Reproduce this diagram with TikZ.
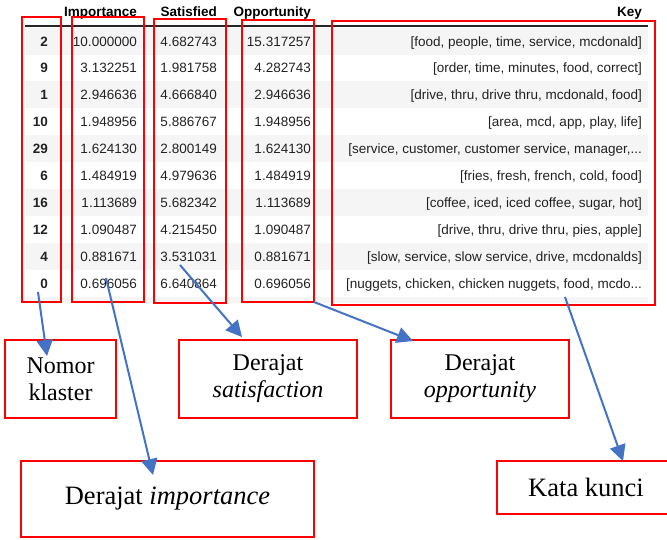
\documentclass[tikz,border=0pt]{standalone}
\usepackage{fontspec}
\setmainfont{Liberation Serif}
\newfontfamily\tabfont{Liberation Sans}
\usetikzlibrary{arrows.meta}
\definecolor{boxred}{HTML}{FF0000}
\definecolor{arrowblue}{HTML}{4472C4}
\definecolor{stripe}{HTML}{F5F5F5}
\definecolor{celltext}{HTML}{222222}
\tikzset{
  pointer/.style={draw=arrowblue, line width=2pt,
    arrows={-Triangle[length=16pt, width=16pt]}}
}
\begin{document}
\begin{tikzpicture}[x=1pt,y=-1pt,
  cell/.style={font=\tabfont\fontsize{13.5}{16}\selectfont, text=celltext,
    anchor=base east, inner sep=0pt},
  idxcell/.style={cell, font=\tabfont\bfseries\fontsize{13.5}{16}\selectfont},
  head/.style={cell, font=\tabfont\bfseries\fontsize{13.5}{16}\selectfont, text=black},
  colbox/.style={draw=boxred, line width=2.5pt, inner sep=0pt, outer sep=0pt},
  labelbox/.style={draw=boxred, line width=2.5pt, inner sep=0pt, outer sep=0pt,
    align=center, font=\fontsize{24}{27}\selectfont},
  bigbox/.style={labelbox, font=\fontsize{26.5}{30}\selectfont}]
\useasboundingbox (0,0) rectangle (667,539);

% striped table body
\foreach \r in {1,3,5,7,9}
  \fill[stripe] (25,{46+(\r-1)*26.9-18.5}) rectangle (648,{46+(\r-1)*26.9+8.5});
\fill[stripe] (25,296.5) rectangle (648,303);

% header
\node[head] (hImp) at (137,16.5) {Importance};
\node[head] (hSat) at (217,16.5) {Satisfied};
\node[head] (hOpp) at (311,16.5) {Opportunity};
\node[head] (hKey) at (642,16.5) {Key};
\draw[line width=1.3pt, black!85] (25,26) -- (648,26);

% table rows
\foreach \r/\k/\imp/\sat/\opp/\kw in {
  1/2/10.000000/4.682743/15.317257/{[food, people, time, service, mcdonald]},
  2/9/3.132251/1.981758/4.282743/{[order, time, minutes, food, correct]},
  3/1/2.946636/4.666840/2.946636/{[drive, thru, drive thru, mcdonald, food]},
  4/10/1.948956/5.886767/1.948956/{[area, mcd, app, play, life]},
  5/29/1.624130/2.800149/1.624130/{[service, customer, customer service, manager,...},
  6/6/1.484919/4.979636/1.484919/{[fries, fresh, french, cold, food]},
  7/16/1.113689/5.682342/1.113689/{[coffee, iced, iced coffee, sugar, hot]},
  8/12/1.090487/4.215450/1.090487/{[drive, thru, drive thru, pies, apple]},
  9/4/0.881671/3.531031/0.881671/{[slow, service, slow service, drive, mcdonalds]},
  10/0/0.696056/6.640864/0.696056/{[nuggets, chicken, chicken nuggets, food, mcdo...}}
{
  \node[idxcell] (idx\r) at (48,{46+(\r-1)*26.9}) {\k};
  \node[cell] (imp\r) at (137,{46+(\r-1)*26.9}) {\imp};
  \node[cell] (sat\r) at (217,{46+(\r-1)*26.9}) {\sat};
  \node[cell] (opp\r) at (311,{46+(\r-1)*26.9}) {\opp};
  \node[cell] (key\r) at (642,{46+(\r-1)*26.9}) {\kw};
}

% column highlights
\node[colbox, minimum width=39, minimum height=285] (colidx) at (41.5,159.5) {};
\node[colbox, minimum width=72, minimum height=285] (colimp) at (108,159.5) {};
\node[colbox, minimum width=72, minimum height=284] (colsat) at (190,161) {};
\node[colbox, minimum width=72, minimum height=282] (colopp) at (278,161) {};
\node[colbox, minimum width=323, minimum height=284] (colkey) at (493.5,163) {};

% captions
\node[labelbox, minimum width=111, minimum height=78] (nomor) at (60.5,379) {Nomor\\klaster};
\node[labelbox, minimum width=178, minimum height=78] (satis) at (268,379) {Derajat\\\textit{satisfaction}};
\node[labelbox, minimum width=178, minimum height=78] (oppor) at (480,379) {Derajat\\\textit{opportunity}};
\node[bigbox, minimum width=293, minimum height=76] (impor) at (167.5,499) {Derajat \textit{importance}};
\node[bigbox, minimum width=178, minimum height=53] (kunci) at (586,487.5) {Kata kunci};

% pointers
\draw[pointer] ([xshift=-3.5pt,yshift=10pt]colidx.south) -- ([xshift=-13.5pt,yshift=-16pt]nomor.north);
\draw[pointer] ([xshift=-2pt,yshift=24pt]colimp.south) -- ([xshift=-14.5pt,yshift=-14pt]impor.north);
\draw[pointer] ([xshift=-10pt,yshift=38pt]colsat.south) -- ([xshift=-26pt,yshift=3pt]satis.north);
\draw[pointer] (colopp.south east) -- ([xshift=-67pt,yshift=-1pt]oppor.north);
\draw[pointer] ([xshift=71.5pt,yshift=8pt]colkey.south) -- ([xshift=37pt]kunci.north);
\end{tikzpicture}
\end{document}
